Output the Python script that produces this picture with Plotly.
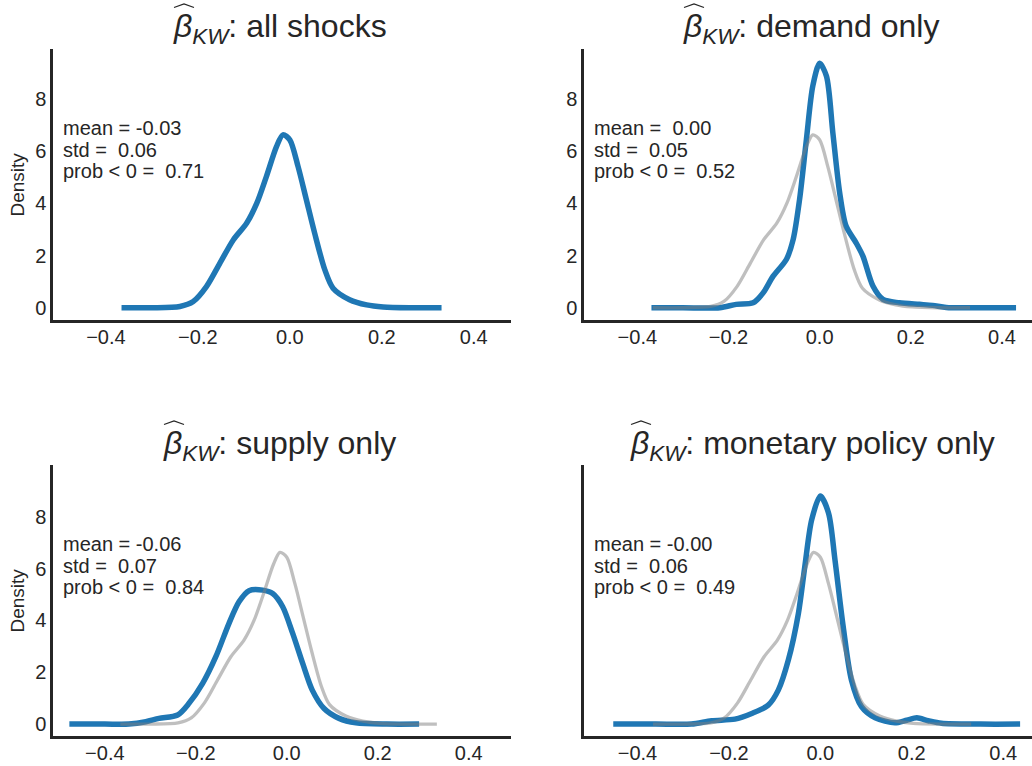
import plotly.graph_objects as go

# ---------------- data ----------------
# KDE of beta_KW, all shocks (drawn blue in panel 1, grey reference in others)
x_all = [-0.366, -0.30, -0.239, -0.210, -0.181, -0.152, -0.123, -0.094, -0.072, -0.051,
         -0.029, -0.015, 0.0, 0.018, 0.036, 0.054, 0.076, 0.094, 0.130, 0.167, 0.203, 0.26, 0.330]
y_all = [0.0, 0.0, 0.05, 0.24, 0.82, 1.71, 2.60, 3.24, 4.00, 5.03,
         6.18, 6.63, 6.44, 5.41, 4.14, 2.86, 1.46, 0.75, 0.31, 0.11, 0.03, 0.0, 0.0]

# demand only
x_dem = [-0.369, -0.30, -0.219, -0.183, -0.146, -0.124, -0.102, -0.073, -0.058, -0.044,
         -0.029, -0.015, 0.0, 0.015, 0.029, 0.044, 0.058, 0.080, 0.095, 0.117, 0.139,
         0.175, 0.219, 0.248, 0.278, 0.35, 0.431]
y_dem = [0.0, 0.0, 0.0, 0.13, 0.19, 0.57, 1.21, 1.85, 2.62, 4.15,
         6.45, 8.50, 9.37, 8.88, 6.71, 4.41, 3.13, 2.49, 1.98, 0.83, 0.32,
         0.19, 0.13, 0.09, 0.01, 0.0, 0.0]

# supply only
x_sup = [-0.478, -0.40, -0.347, -0.310, -0.281, -0.240, -0.215, -0.185, -0.156, -0.127,
         -0.105, -0.083, -0.053, -0.031, -0.009, 0.013, 0.035, 0.056, 0.082, 0.115,
         0.152, 0.22, 0.291]
y_sup = [0.0, 0.0, 0.0, 0.09, 0.22, 0.35, 0.80, 1.57, 2.60, 3.89,
         4.72, 5.15, 5.17, 5.04, 4.53, 3.50, 2.34, 1.31, 0.60, 0.22,
         0.05, 0.0, 0.0]

# monetary policy only
x_mon = [-0.453, -0.36, -0.282, -0.238, -0.187, -0.150, -0.114, -0.092, -0.070, -0.048,
         -0.034, -0.019, 0.0, 0.018, 0.032, 0.050, 0.068, 0.090, 0.120, 0.163,
         0.189, 0.211, 0.236, 0.265, 0.35, 0.437]
y_mon = [0.0, 0.0, 0.0, 0.13, 0.19, 0.41, 0.73, 1.31, 2.47, 4.27,
         6.08, 7.88, 8.80, 8.14, 6.34, 3.76, 1.70, 0.67, 0.24, 0.05,
         0.15, 0.24, 0.13, 0.03, 0.0, 0.0]

titles = ["all shocks", "demand only", "supply only", "monetary policy only"]
means = ["-0.03", " 0.00", "-0.06", "-0.00"]
stds = [" 0.06", " 0.05", " 0.07", " 0.06"]
probs = [" 0.71", " 0.52", " 0.84", " 0.49"]

x_ticks = [-0.4, -0.2, 0.0, 0.2, 0.4]
y_ticks = [0, 2, 4, 6, 8]

# ---------------- style ----------------
W, H = 1032, 766
BLUE = "#1f77b4"
GREY = "rgba(128,128,128,0.5)"
TXT = "#262626"
FONT = "Liberation Sans, Arial, sans-serif"

def px_x(p):
    return p / W

def px_y(p):
    return 1 - p / H

# panel pixel boxes: (left, right, top, bottom)
boxes = [(53, 511, 49, 320), (584, 1032, 49, 320), (53, 511, 465, 736), (584, 1032, 465, 736)]
xr = [[-0.515, 0.481], [-0.517, 0.466], [-0.514, 0.493], [-0.517, 0.463]]
yr = [[-0.47, 9.92], [-0.47, 9.92], [-0.46, 10.0], [-0.46, 10.0]]
# left edge of the beta glyph and the title baseline, in pixels
title_left = [173, 683, 163, 630]
title_base = [36, 36, 453, 453]

fig = go.Figure()

series = [(x_all, y_all), (x_dem, y_dem), (x_sup, y_sup), (x_mon, y_mon)]
for i, (xs, ys) in enumerate(series):
    sfx = "" if i == 0 else str(i + 1)
    fig.add_trace(go.Scatter(x=xs, y=ys, mode="lines", xaxis="x" + sfx, yaxis="y" + sfx,
                             line=dict(color=BLUE, width=5.5, shape="spline", smoothing=0.8),
                             showlegend=False, hoverinfo="skip"))
    if i > 0:
        fig.add_trace(go.Scatter(x=x_all, y=y_all, mode="lines", xaxis="x" + sfx, yaxis="y" + sfx,
                                 line=dict(color=GREY, width=3.3, shape="spline", smoothing=0.8),
                                 showlegend=False, hoverinfo="skip"))

layout = dict(width=W, height=H, margin=dict(l=0, r=0, t=0, b=0),
              paper_bgcolor="white", plot_bgcolor="white",
              font=dict(family=FONT, color=TXT, size=20), showlegend=False)

annotations = []
shapes = []
for i, (l, r, t, b) in enumerate(boxes):
    sfx = "" if i == 0 else str(i + 1)
    layout["xaxis" + sfx] = dict(domain=[px_x(l), px_x(r)], range=xr[i], anchor="y" + sfx,
                                 showline=True, linecolor=TXT, linewidth=2.5, showgrid=False,
                                 zeroline=False, tickvals=x_ticks, tickformat=".1f",
                                 ticks="", ticklabelstandoff=-3,
                                 tickfont=dict(size=20, color=TXT), fixedrange=True)
    layout["yaxis" + sfx] = dict(domain=[px_y(b), px_y(t)], range=yr[i], anchor="x" + sfx,
                                 showline=True, linecolor=TXT, linewidth=2.5, showgrid=False,
                                 zeroline=False, tickvals=y_ticks, ticks="",
                                 showticklabels=(i != 3),
                                 tickfont=dict(size=20, color=TXT), fixedrange=True)
    # title
    tl, tb = title_left[i], title_base[i]
    annotations.append(dict(xref="paper", yref="paper", x=px_x(tl - 2), y=px_y(tb + 15),
                            xanchor="left", yanchor="bottom", showarrow=False,
                            text="<i>β</i><sub><i>KW</i></sub>: " + titles[i],
                            font=dict(size=32, color=TXT, family=FONT)))
    shapes.append(dict(type="path", xref="paper", yref="paper",
                       path="M %f %f L %f %f L %f %f" % (px_x(tl + 1), px_y(tb - 28.5),
                                                          px_x(tl + 11), px_y(tb - 32),
                                                          px_x(tl + 21), px_y(tb - 28.5)),
                       line=dict(color=TXT, width=1.3)))
    # stats text
    lines = ["mean = " + means[i], "std = " + stds[i], "prob < 0 = " + probs[i]]
    for k, s in enumerate(lines):
        annotations.append(dict(xref="paper", yref="paper", x=px_x(l + 8), y=px_y(t + 79 + 21.6 * k),
                                xanchor="left", yanchor="middle", showarrow=False,
                                text=s.replace("  ", "\u00a0\u00a0").replace("= ", "=\u00a0"),
                                font=dict(size=20, color=TXT, family=FONT)))
    if i % 2 == 0:
        annotations.append(dict(xref="paper", yref="paper", x=px_x(17), y=px_y((t + b) / 2),
                                xanchor="center", yanchor="middle", showarrow=False, textangle=-90,
                                text="Density", font=dict(size=19, color=TXT, family=FONT)))

layout["annotations"] = annotations
layout["shapes"] = shapes
fig.update_layout(**layout)
fig.write_html("out.html", config={"displayModeBar": False},
               post_script="document.body.style.margin='0';document.body.style.overflow='hidden';")
